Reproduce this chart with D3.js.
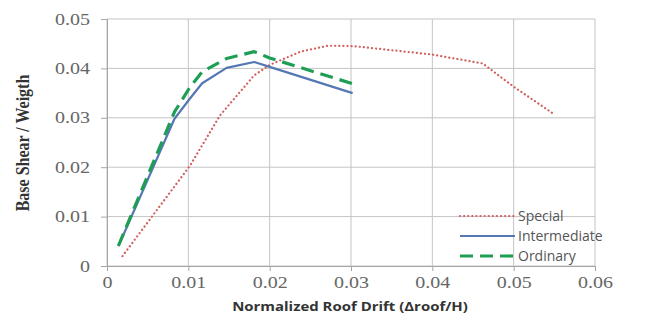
<!DOCTYPE html>
<html>
<head>
<meta charset="utf-8">
<script src="https://cdn.jsdelivr.net/npm/d3@7"></script>
<style>
  body { margin: 0; background: #fff; }
  svg { display: block; }
</style>
</head>
<body>
<div id="chart"></div>
<script>
// values: drift vs base shear / weight
const specialX = [0.0019, 0.0102, 0.0139, 0.0181, 0.0200, 0.0238, 0.0272, 0.0304, 0.0400, 0.0462, 0.0500, 0.0549]
const specialY = [0.0020, 0.0203, 0.0305, 0.0386, 0.0407, 0.0434, 0.0446, 0.0445, 0.0428, 0.0410, 0.0363, 0.0308]
const intermX = [0.0014, 0.0083, 0.0102, 0.0117, 0.0147, 0.0181, 0.0200, 0.0302]
const intermY = [0.0040, 0.0298, 0.0339, 0.0370, 0.0401, 0.0413, 0.0403, 0.0350]
const ordinX = [0.0014, 0.0083, 0.0102, 0.0117, 0.0147, 0.0181, 0.0200, 0.0302]
const ordinY = [0.0041, 0.0312, 0.0362, 0.0393, 0.0420, 0.0434, 0.0421, 0.0369]
const xTicks = [0, 0.01, 0.02, 0.03, 0.04, 0.05, 0.06]
const yTicks = [0, 0.01, 0.02, 0.03, 0.04, 0.05]
const seriesNames = ['Special', 'Intermediate', 'Ordinary']

const width = 654
const height = 322
const margin = { top: 19, right: 59, bottom: 56, left: 107 }
const innerWidth = width - margin.left - margin.right
const innerHeight = height - margin.top - margin.bottom

const svg = d3.select('#chart')
    .append('svg')
    .attr('width', width)
    .attr('height', height)

const chart = svg.append('g')
    .attr('transform', `translate(${margin.left},${margin.top})`)

const xScale = d3.scaleLinear().domain([0, 0.06]).range([0, innerWidth])
const yScale = d3.scaleLinear().domain([0, 0.05]).range([innerHeight, 0])

const fmt = d => d === 0 ? '0' : d3.format('.2f')(d)

// gridlines
chart.append('g')
    .selectAll('line')
    .data(yTicks)
    .enter()
    .append('line')
    .attr('x1', 0)
    .attr('x2', innerWidth)
    .attr('y1', d => yScale(d))
    .attr('y2', d => yScale(d))
    .attr('stroke', '#c4c4c4')

chart.append('g')
    .selectAll('line')
    .data(xTicks)
    .enter()
    .append('line')
    .attr('x1', d => xScale(d))
    .attr('x2', d => xScale(d))
    .attr('y1', 0)
    .attr('y2', innerHeight)
    .attr('stroke', '#c4c4c4')

// axes
const xAxis = d3.axisBottom(xScale).tickValues(xTicks).tickFormat(fmt).tickSize(5).tickPadding(6)
const yAxis = d3.axisLeft(yScale).tickValues(yTicks).tickFormat(fmt).tickSize(6).tickPadding(11)

const gx = chart.append('g')
    .attr('transform', `translate(0, ${innerHeight})`)
    .call(xAxis)
const gy = chart.append('g').call(yAxis)

for (let g of [gx, gy]) {
    g.attr('font-size', null).attr('font-family', null)
    g.selectAll('path, line').attr('stroke', '#a6a6a6')
    g.selectAll('text')
        .attr('fill', '#666')
        .style('font-family', '"Liberation Serif", serif')
        .style('font-size', '16px')
}
// the picture is a bit stretched sideways, so widen the labels
gx.selectAll('text').attr('transform', 'scale(1.25,1)')
gy.selectAll('text').attr('transform', 'translate(-17,0) scale(1.25,1) translate(17,0)')

// lines
const line = d3.line()
    .x(d => xScale(d[0]))
    .y(d => yScale(d[1]))

const series = [
    { name: seriesNames[0], pts: d3.zip(specialX, specialY), color: '#d0605e', width: 2.2, dash: '0.1 4', cap: 'round' },
    { name: seriesNames[1], pts: d3.zip(intermX, intermY), color: '#5577b4', width: 2.2, dash: null, cap: 'butt' },
    { name: seriesNames[2], pts: d3.zip(ordinX, ordinY), color: '#1e9e55', width: 3.2, dash: '13 7', cap: 'butt' }
]

chart.selectAll('.series')
    .data(series)
    .enter()
    .append('path')
    .attr('class', 'series')
    .attr('d', d => line(d.pts))
    .attr('fill', 'none')
    .attr('stroke', d => d.color)
    .attr('stroke-width', d => d.width)
    .attr('stroke-dasharray', d => d.dash)
    .attr('stroke-linecap', d => d.cap)
    .attr('stroke-linejoin', 'round')

// legend
const legend = svg.append('g')
    .selectAll('g')
    .data(series)
    .enter()
    .append('g')
    .attr('transform', (d, i) => `translate(460, ${216 + i * 20})`)

legend.append('line')
    .attr('x1', 0)
    .attr('x2', 55)
    .attr('stroke', d => d.color)
    .attr('stroke-width', d => d.width)
    .attr('stroke-dasharray', d => d.dash)
    .attr('stroke-linecap', d => d.cap)

legend.append('text')
    .attr('x', 58)
    .attr('dy', '0.35em')
    .attr('fill', '#555')
    .style('font-family', '"Open Sans", sans-serif')
    .style('font-size', '14px')
    .text(d => d.name)

// axis titles
svg.append('text')
    .attr('transform', 'translate(22, 143) scale(1.2,1) rotate(-90)')
    .attr('text-anchor', 'middle')
    .attr('dy', '0.35em')
    .attr('fill', '#333')
    .style('font-family', '"Liberation Serif", serif')
    .style('font-weight', 'bold')
    .style('font-size', '16px')
    .text('Base Shear / Weigth')

svg.append('text')
    .attr('transform', 'translate(350, 306) scale(1.15,1)')
    .attr('text-anchor', 'middle')
    .attr('dy', '0.35em')
    .attr('fill', '#333')
    .style('font-family', '"Open Sans", sans-serif')
    .style('font-weight', 'bold')
    .style('font-size', '13px')
    .text('Normalized Roof Drift (\u0394roof/H)')
</script>
</body>
</html>
